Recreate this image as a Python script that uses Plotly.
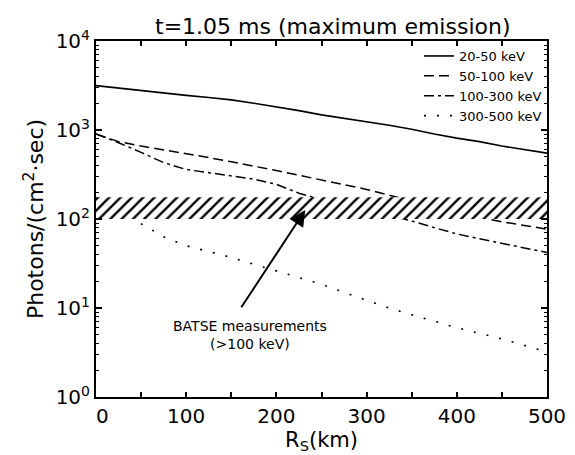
import math
import plotly.graph_objects as go

# ---- data ----
rs_km = [0, 25, 50, 75, 100, 125, 150, 175, 200, 225, 250, 275, 300,
         325, 350, 375, 400, 425, 450, 475, 500]

flux_20_50 = [3150, 2950, 2780, 2620, 2450, 2320, 2180, 2000, 1830, 1650, 1480,
              1360, 1240, 1130, 1020, 900, 810, 740, 660, 600, 550]
flux_50_100 = [900, 740, 660, 600, 540, 490, 440, 395, 350, 310, 275,
               245, 215, 185, 160, 138, 120, 105, 93, 84, 77]
flux_100_300 = [900, 720, 560, 430, 360, 330, 305, 280, 245, 195, 165,
                145, 128, 110, 95, 80, 68, 60, 53, 47, 42]
flux_300_500 = [175, 125, 88, 63, 50, 43, 37, 31, 26, 22, 18.5,
                15, 12.3, 10, 8.4, 7.1, 6.0, 5.2, 4.5, 3.8, 3.2]

series_names = ["20-50 keV", "50-100 keV", "100-300 keV", "300-500 keV"]

# BATSE measurement band (>100 keV)
band_x = [0, 500]
band_low = [100, 100]
band_high = [175, 175]

# arrow: from label to band
arrow_tail = (160, 9.8)
arrow_tip = (232, 126)
label_pos = (171, 5.0)

x_ticks = [0, 100, 200, 300, 400, 500]
x_ticktext = ["\u00a0\u00a00", "100", "200", "300", "400", "500"]
x_minor = [50, 150, 250, 350, 450]
y_ticks = [1, 10, 100, 1000, 10000]
y_ticktext = ["10<sup>0</sup>", "10<sup>1</sup>", "10<sup>2</sup>",
              "10<sup>3</sup>", "10<sup>4</sup>"]
y_minor = [m * 10 ** d for d in range(4) for m in range(2, 10)]

FONT = "DejaVu Sans"

fig = go.Figure()

styles = [
    dict(color="black", width=1.6, dash="solid"),
    dict(color="black", width=1.5, dash="10px,5px"),
    dict(color="black", width=1.5, dash="10px,4px,3px,4px"),
    dict(color="black", width=1.6, dash="2px,11px"),
]
for name, ys, st in zip(series_names,
                        [flux_20_50, flux_50_100, flux_100_300, flux_300_500],
                        styles):
    fig.add_trace(go.Scatter(x=rs_km, y=ys, mode="lines", name=name,
                             line=st))

# hatched band on top
fig.add_trace(go.Scatter(x=band_x, y=band_low, mode="lines",
                         line=dict(width=0, color="rgba(0,0,0,0)"),
                         showlegend=False, hoverinfo="skip"))
fig.add_trace(go.Scatter(x=band_x, y=band_high, mode="lines",
                         line=dict(width=0, color="rgba(0,0,0,0)"),
                         fill="tonexty", fillcolor="white",
                         fillpattern=dict(shape="/", size=8, solidity=0.3,
                                          fgcolor="black", bgcolor="white",
                                          fillmode="replace"),
                         showlegend=False, hoverinfo="skip"))

fig.add_annotation(x=arrow_tip[0], y=math.log10(arrow_tip[1]),
                   ax=arrow_tail[0], ay=math.log10(arrow_tail[1]),
                   xref="x", yref="y", axref="x", ayref="y",
                   text="", showarrow=True, arrowhead=2, arrowsize=1.6,
                   arrowwidth=2, arrowcolor="black")
fig.add_annotation(x=label_pos[0], y=math.log10(label_pos[1]),
                   xref="x", yref="y",
                   text="BATSE measurements<br>(>100 keV)",
                   showarrow=False, font=dict(family=FONT, size=14, color="black"),
                   align="center", xanchor="center", yanchor="middle")

fig.update_layout(
    width=575, height=455,
    margin=dict(l=88, r=36, t=33, b=66),
    paper_bgcolor="white", plot_bgcolor="white",
    font=dict(family=FONT, color="black"),
    title=dict(text="t=1.05 ms (maximum emission)", x=0.525, xref="paper",
               y=1 - 18 / 455, yanchor="middle", xanchor="center",
               font=dict(family=FONT, size=22, color="black")),
    legend=dict(x=1, y=1, xanchor="right", yanchor="top",
                traceorder="normal",
                bgcolor="rgba(0,0,0,0)", borderwidth=0,
                font=dict(family=FONT, size=13, color="black"),
                tracegroupgap=0),
    showlegend=True,
)

fig.update_xaxes(range=[0, 500], tickvals=x_ticks, ticktext=x_ticktext,
                 ticks="inside", ticklen=5, tickwidth=1.5, tickcolor="black",
                 minor=dict(tickvals=x_minor, ticks="inside", ticklen=5,
                            tickwidth=1.5, tickcolor="black", showgrid=False),
                 showline=True, linewidth=2, linecolor="black", mirror="ticks",
                 showgrid=False, zeroline=False,
                 tickfont=dict(family=FONT, size=20, color="black"),
                 title=dict(text="R<sub>S</sub>(km)", standoff=0,
                            font=dict(family=FONT, size=21, color="black")))
fig.update_yaxes(type="log", range=[0, 4], tickvals=y_ticks, ticktext=y_ticktext,
                 ticks="inside", ticklen=6, tickwidth=1.5, tickcolor="black",
                 minor=dict(tickvals=y_minor, ticks="inside", ticklen=3,
                            tickwidth=1, tickcolor="black", showgrid=False),
                 showline=True, linewidth=2, linecolor="black", mirror="ticks",
                 showgrid=False, zeroline=False,
                 tickfont=dict(family=FONT, size=20, color="black"),
                 title=dict(text="Photons/(cm<sup>2</sup>·sec)", standoff=6,
                            font=dict(family=FONT, size=22, color="black")))

fig.write_html("out.html")
